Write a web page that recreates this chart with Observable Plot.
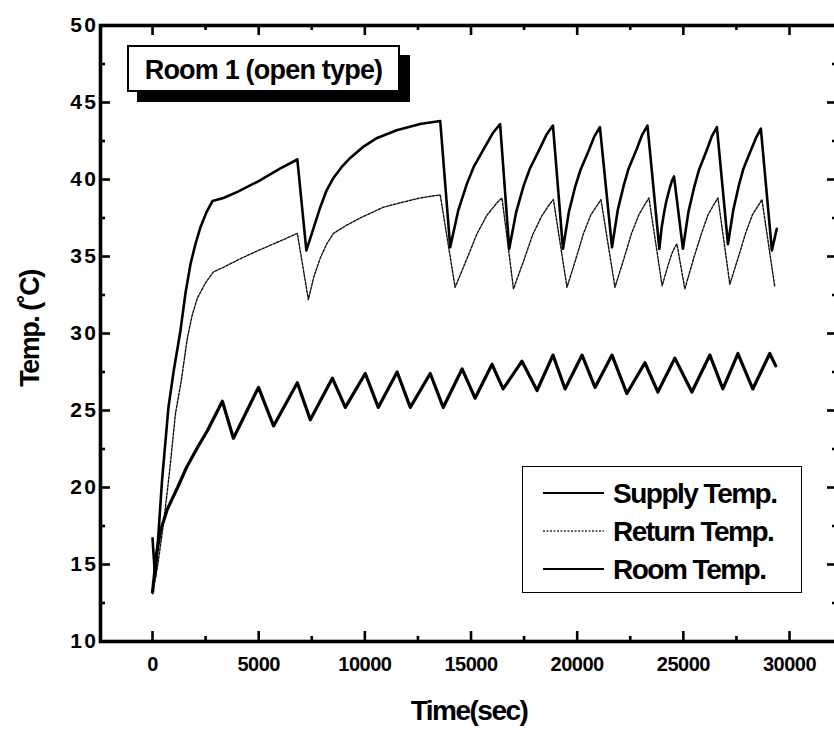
<!DOCTYPE html>
<html><head><meta charset="utf-8">
<script src="https://cdn.jsdelivr.net/npm/d3@7"></script>
<script src="https://cdn.jsdelivr.net/npm/@observablehq/plot@0.6"></script>
<style>
html,body{margin:0;padding:0;background:#fff;overflow:hidden;}
#wrap{position:relative;width:834px;height:733px;overflow:hidden;font-family:"Liberation Sans",Arial,sans-serif;}
#wrap > svg{position:absolute;left:0;top:0;max-width:none !important;width:840px !important;height:733px !important;}
.title-box{position:absolute;left:127px;top:45px;width:273px;height:47px;box-sizing:border-box;border:2px solid #000;background:#fff;box-shadow:10px 10px 0 #000;font-weight:bold;font-size:27px;letter-spacing:-0.8px;display:flex;align-items:center;justify-content:center;padding-top:4px;color:#000;}
.legend{position:absolute;left:522px;top:466px;width:280px;height:127px;box-sizing:border-box;border:1.5px solid #000;background:#fff;}
.legend svg{position:absolute;left:0;top:0;}
</style>
</head><body>
<div id="wrap"></div>
<script>
// ---- data (time in sec, temperature in °C) ----
const supplyTemp = [
[0,16.7],[120,14.2],[250,16.4],[450,20.5],[750,25.2],[1000,27.6],[1317,30.2],[1550,32.6],[1787,34.5],[2020,35.8],[2258,36.9],[2550,37.9],[2822,38.6],[3340,38.8],[4000,39.2],[5000,39.9],[6000,40.7],[6820,41.3],[7245,35.4],[7550,36.7],[7900,38.2],[8200,39.3],[8520,40.1],[8900,40.8],[9310,41.4],[9900,42.1],[10580,42.7],[11500,43.2],[12600,43.6],[13550,43.8],[14020,35.6],
[14400,38.0],[14800,39.7],[15120,40.8],[15650,42.1],[16020,43.0],[16370,43.6],[16800,35.5],
[17130,37.9],[17480,39.6],[17770,40.7],[18240,42.0],[18550,42.9],[18860,43.5],[19330,35.5],
[19610,37.9],[19900,39.5],[20150,40.6],[20550,41.9],[20810,42.8],[21070,43.4],[21640,35.6],
[21910,38.0],[22190,39.6],[22420,40.7],[22810,42.0],[23060,42.9],[23310,43.5],[23870,35.5],
[23980,36.9],[24100,37.9],[24200,38.6],[24350,39.4],[24460,39.9],[24560,40.2],[24980,35.5],
[25240,37.9],[25510,39.5],[25730,40.6],[26100,41.9],[26340,42.8],[26580,43.4],[27100,35.8],
[27350,38.0],[27610,39.6],[27830,40.7],[28180,41.9],[28420,42.7],[28650,43.3],[29170,35.4],[29400,36.8]
];
const returnTemp = [
[0,13.1],[250,15.0],[520,17.7],[800,21.0],[1080,24.8],[1350,26.9],[1640,29.7],[1870,31.2],[2110,32.3],[2500,33.3],[2870,34.0],[3340,34.3],[4200,34.9],[5000,35.4],[6000,36.0],[6820,36.5],[7340,32.2],[7600,33.7],[7900,34.9],[8200,35.8],[8520,36.5],[9100,37.0],[9780,37.5],[10870,38.2],[11700,38.5],[12600,38.8],[13550,39.0],[14250,33.0],
[14820,34.9],[15290,36.5],[15760,37.7],[16230,38.5],[16460,38.8],[17000,32.9],
[17500,34.8],[17900,36.4],[18320,37.6],[18700,38.4],[18880,38.7],[19520,33.0],
[19950,34.9],[20300,36.5],[20640,37.7],[20980,38.4],[21120,38.7],[21780,33.0],
[22210,34.9],[22560,36.5],[22900,37.7],[23240,38.5],[23380,38.8],[24000,33.1],
[24190,34.0],[24340,34.7],[24490,35.3],[24640,35.7],[24700,35.8],[25070,32.9],
[25490,34.9],[25830,36.4],[26160,37.7],[26490,38.5],[26630,38.8],[27190,33.2],
[27600,35.0],[27930,36.5],[28250,37.7],[28570,38.4],[28700,38.7],[29310,33.0]
];
const roomTemp = [
[0,13.2],[200,15.8],[376,17.2],[700,18.6],[1180,20.0],[1600,21.3],[2117,22.6],[2590,23.7],[3290,25.6],[3810,23.2],[4990,26.5],[5700,24.0],[6820,26.8],[7430,24.4],[8470,27.1],[9080,25.2],[10020,27.4],[10630,25.2],[11520,27.5],[12140,25.2],[13080,27.4],[13690,25.2],[14580,27.7],[15190,25.8],[15990,28.0],[16510,26.4],[17400,28.2],[18110,26.3],[18860,28.6],[19430,26.4],[20230,28.6],[20840,26.5],[21640,28.6],[22340,26.1],[23190,28.1],[23800,26.2],[24600,28.4],[25400,26.2],[26250,28.6],[26860,26.4],[27570,28.7],[28270,26.4],[29070,28.7],[29350,27.9]
];
const seriesNames = ["Supply Temp.", "Return Temp.", "Room Temp."];
const xMajorTicks = [0,5000,10000,15000,20000,25000,30000];
const xMinorTicks = [2500,7500,12500,17500,22500,27500];
const yMajorTicks = [10,15,20,25,30,35,40,45,50];
const yMinorTicks = [12.5,17.5,22.5,27.5,32.5,37.5,42.5,47.5];
const titleText = "Room 1 (open type)";
const xTitle = "Time(sec)";
const yTitle = "Temp. (\u02DAC)";

// ---- layout constants ----
const xDom = [-2450, 32260], yDom = [10, 50];
const pxPerX = 737 / (xDom[1] - xDom[0]);
const pxPerY = 616 / (yDom[1] - yDom[0]);
const majX = 10 / pxPerX, minX = 5 / pxPerX; // horizontal tick length in x units
const majY = 10 / pxPerY, minY = 5 / pxPerY; // vertical tick length in y units
const tickW = 2.6;
const FONT = '"Liberation Sans", Arial, sans-serif';

const P = d => d[0], V = d => d[1], I = d => d;

const chart = Plot.plot({
  width: 840, height: 733,
  marginLeft: 100, marginRight: 3, marginTop: 25, marginBottom: 92,
  x: {domain: xDom},
  y: {domain: yDom},
  style: {fontFamily: FONT, background: "white", color: "black"},
  marks: [
    Plot.line(returnTemp, {x: P, y: V, stroke: "#111", strokeWidth: 1.4, strokeDasharray: "2.5,1.5"}),
    Plot.line(supplyTemp, {x: P, y: V, stroke: "black", strokeWidth: 2.6}),
    Plot.line(roomTemp, {x: P, y: V, stroke: "black", strokeWidth: 3.2}),
    // inward ticks
    Plot.ruleX(xMajorTicks, {x: I, y1: () => yDom[0], y2: () => yDom[0] + majY, stroke: "black", strokeWidth: tickW}),
    Plot.ruleX(xMinorTicks, {x: I, y1: () => yDom[0], y2: () => yDom[0] + minY, stroke: "black", strokeWidth: tickW}),
    Plot.ruleX(xMajorTicks, {x: I, y1: () => yDom[1], y2: () => yDom[1] - majY, stroke: "black", strokeWidth: tickW}),
    Plot.ruleX(xMinorTicks, {x: I, y1: () => yDom[1], y2: () => yDom[1] - minY, stroke: "black", strokeWidth: tickW}),
    Plot.ruleY(yMajorTicks, {y: I, x1: () => xDom[0], x2: () => xDom[0] + majX, stroke: "black", strokeWidth: tickW}),
    Plot.ruleY(yMinorTicks, {y: I, x1: () => xDom[0], x2: () => xDom[0] + minX, stroke: "black", strokeWidth: tickW}),
    Plot.ruleY(yMajorTicks, {y: I, x1: () => xDom[1], x2: () => xDom[1] - majX, stroke: "black", strokeWidth: tickW}),
    Plot.ruleY(yMinorTicks, {y: I, x1: () => xDom[1], x2: () => xDom[1] - minX, stroke: "black", strokeWidth: tickW}),
    Plot.frame({stroke: "black", strokeWidth: 3.6}),
    Plot.axisX(xMajorTicks, {anchor: "bottom", tickSize: 0, tickPadding: 15, tickFormat: d => String(d), fontSize: 20, fontWeight: "bold", label: null}),
    Plot.axisY(yMajorTicks, {anchor: "left", tickSize: 0, tickPadding: 2, tickFormat: d => String(d), fontSize: 21, fontWeight: "bold", label: null}),
    Plot.text([xTitle], {text: I, frameAnchor: "bottom", dy: 70, fontSize: 28, fontWeight: "bold", lineAnchor: "middle", textAnchor: "middle"}),
    Plot.text([yTitle], {text: I, frameAnchor: "left", rotate: -90, dx: -70, dy: -5, fontSize: 27, fontWeight: "bold", lineAnchor: "middle", textAnchor: "middle"})
  ]
});

const wrap = document.getElementById("wrap");
wrap.appendChild(chart);
const s = d3.select(chart);
s.selectAll('g[aria-label="x-axis tick label"] text').style("letter-spacing", "-0.5px");
s.selectAll('g[aria-label="y-axis tick label"] text').style("letter-spacing", "2.5px");
s.selectAll("text").filter(function(){ return this.textContent === xTitle || this.textContent === yTitle; })
  .style("letter-spacing", "-1.5px");

// title box
const tb = document.createElement("div");
tb.className = "title-box";
tb.textContent = titleText;
wrap.appendChild(tb);

// legend
const lg = d3.select(wrap).append("div").attr("class", "legend");
const lsvg = lg.append("svg").attr("width", 280).attr("height", 127);
const legStyles = [
  {stroke: "black", width: 2, dash: null},
  {stroke: "#333", width: 1.3, dash: "2,1.5"},
  {stroke: "black", width: 2, dash: null}
];
const rowY = [26, 64, 102];
seriesNames.forEach((name, i) => {
  lsvg.append("line").attr("x1", 20).attr("x2", 81).attr("y1", rowY[i]).attr("y2", rowY[i])
    .attr("stroke", legStyles[i].stroke).attr("stroke-width", legStyles[i].width)
    .attr("stroke-dasharray", legStyles[i].dash);
  lsvg.append("text").attr("x", 90).attr("y", rowY[i] + 10).text(name)
    .attr("font-family", FONT).attr("font-weight", "bold").attr("font-size", 28)
    .style("letter-spacing", "-1.5px");
});
</script>
</body></html>
